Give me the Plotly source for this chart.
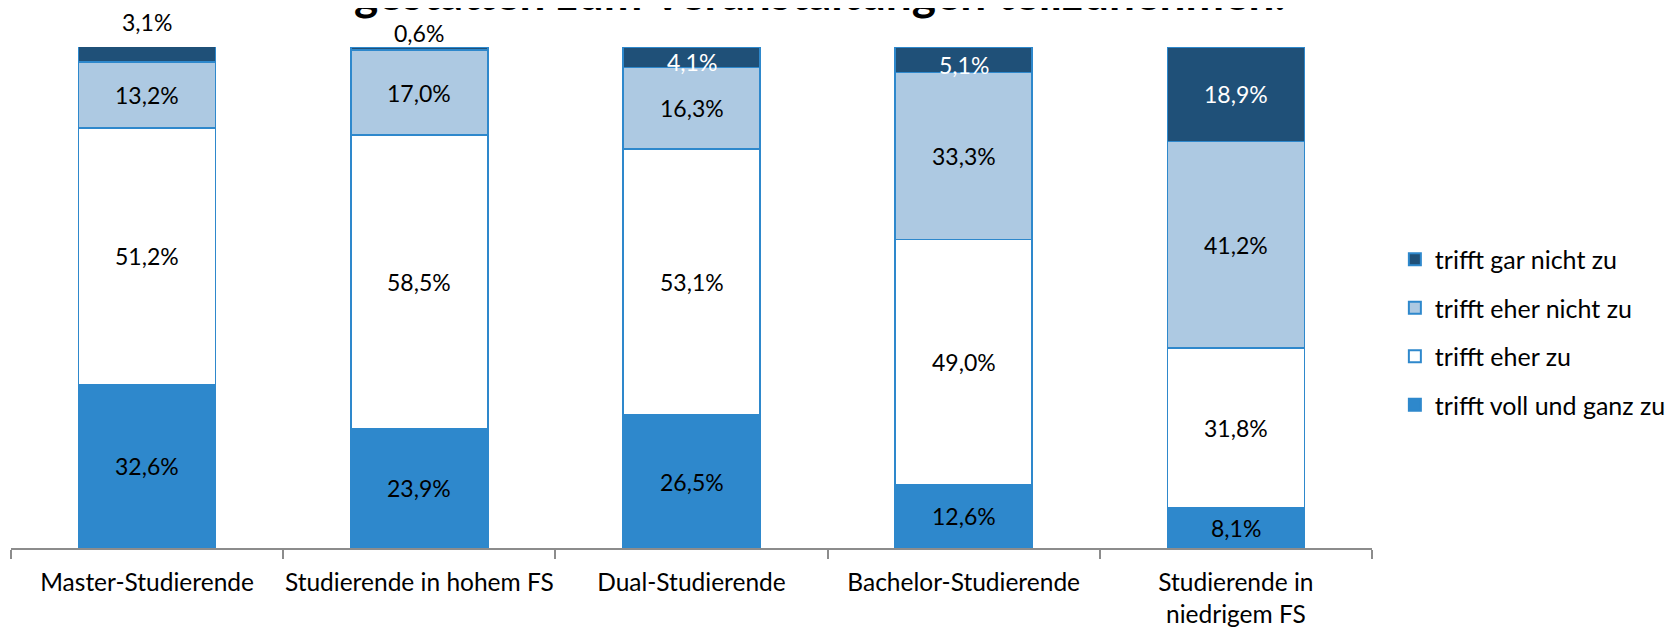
import plotly.graph_objects as go

categories = ["Master-Studierende", "Studierende in hohem FS", "Dual-Studierende",
              "Bachelor-Studierende", "Studierende in<br>niedrigem FS"]
voll_und_ganz = [32.6, 23.9, 26.5, 12.6, 8.1]
eher_zu = [51.2, 58.5, 53.1, 49.0, 31.8]
eher_nicht = [13.2, 17.0, 16.3, 33.3, 41.2]
gar_nicht = [3.1, 0.6, 4.1, 5.1, 18.9]

series = [
    ("trifft voll und ganz zu", voll_und_ganz, "#2E88CC", "black"),
    ("trifft eher zu", eher_zu, "#FFFFFF", "black"),
    ("trifft eher nicht zu", eher_nicht, "#ADC9E2", "black"),
    ("trifft gar nicht zu", gar_nicht, "#1F5078", "white"),
]

FONT = "Lato"
LABEL_SIZE = 23
fig = go.Figure()
for k, (name, vals, color, _) in enumerate(series):
    fig.add_trace(go.Bar(
        x=categories, y=vals, name=name, legendgroup=name,
        legendrank=len(series) - k,
        marker=dict(color=color, line=dict(color="#2E88CC", width=1.5)),
        hoverinfo="skip",
    ))

def fmt(v):
    return f"{v:.1f}%".replace(".", ",")

annotations = []
base = [0.0] * len(categories)
for name, vals, color, tcol in series:
    for i, v in enumerate(vals):
        mid = base[i] + v / 2
        if name == "trifft gar nicht zu" and i in (0, 1):
            # labels placed above the bar
            annotations.append(dict(x=categories[i], y=100, yanchor="middle",
                                    yshift=25 if i == 0 else 14, text=fmt(v), showarrow=False,
                                    font=dict(family=FONT, size=LABEL_SIZE, color="black")))
        else:
            annotations.append(dict(x=categories[i], y=mid, text=fmt(v), showarrow=False,
                                    yshift=-5 if v < 6 else 0,
                                    font=dict(family=FONT, size=LABEL_SIZE, color=tcol)))
        base[i] += v

annotations.append(dict(xref="paper", yref="paper", x=0.594, y=1.050, yanchor="bottom",
                        xanchor="center", showarrow=False,
                        text="<b>gestatten zum Veranstaltungen teilzunehmen.</b>",
                        font=dict(family=FONT, size=46, color="black")))

fig.update_layout(
    barmode="stack",
    bargap=0.497,
    width=1669, height=620,
    margin=dict(l=3, r=305, t=39, b=80, autoexpand=False),
    paper_bgcolor="white", plot_bgcolor="white",
    font=dict(family=FONT, size=24, color="black"),
    showlegend=True,
    legend=dict(x=1.0168, y=0.431, yanchor="middle", xanchor="left",
                traceorder="grouped", font=dict(family=FONT, size=25, color="black"),
                itemwidth=30, tracegroupgap=13, itemsizing="constant"),
    annotations=annotations,
)
fig.update_xaxes(showline=True, linecolor="#8C8C8C", linewidth=1.5,
                 ticks="outside", tickson="boundaries", ticklen=9, tickcolor="#8C8C8C",
                 tickwidth=1.5, tickangle=0, tickfont=dict(family=FONT, size=24.5, color="black"),
                 ticklabelstandoff=12, showgrid=False, automargin=False)
fig.update_yaxes(range=[0, 100], visible=False, showgrid=False, automargin=False)

fig.write_html("out.html")
